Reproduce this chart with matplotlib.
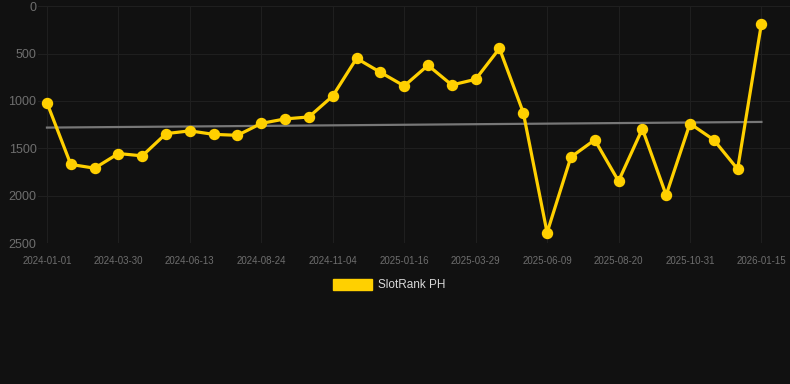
import numpy as np
import matplotlib.pyplot as plt

plt.rcParams['font.family'] = ['Liberation Sans', 'DejaVu Sans']

# SlotRank PH の順位推移（値は画像から読み取り）
ranks = [1020, 1670, 1710, 1555, 1580, 1345, 1316, 1353, 1363, 1237,
         1190, 1169, 948, 551, 698, 842, 624, 832, 772, 446,
         1123, 2390, 1593, 1411, 1846, 1295, 1994, 1239, 1411, 1720,
         186]
tick_labels = ['2024-01-01', '2024-03-30', '2024-06-13', '2024-08-24',
               '2024-11-04', '2025-01-16', '2025-03-29', '2025-06-09',
               '2025-08-20', '2025-10-31', '2026-01-15']
label = 'SlotRank PH'

bg = '#111111'
yellow = '#ffd000'

x = np.arange(len(ranks))
y = np.array(ranks)
b, a = np.polyfit(x, y, 1)

fig = plt.figure(figsize=(7.9, 3.84), dpi=100, facecolor=bg)
ax = fig.add_axes([0.048, 0.367, 0.952, 0.617], facecolor=bg)

ax.plot(x, b * x + a + 12, color='#777777', lw=1.6, zorder=2)
ax.plot(x, y, color=yellow, lw=2.3, marker='o', ms=7.2, zorder=3)

ax.set_ylim(2500, 0)
ax.set_xlim(-0.38, 31.2)
ax.set_yticks([0, 500, 1000, 1500, 2000, 2500])
ax.set_xticks(x[::3])
ax.set_xticklabels(tick_labels)
ax.tick_params(axis='y', colors='#6e6e6e', labelsize=9, length=0, pad=1)
ax.tick_params(axis='x', colors='#6e6e6e', labelsize=7, length=0, pad=9)
ax.grid(True, color='#1f1f1f', lw=0.8)
for s in ax.spines.values():
    s.set_visible(False)

# 凡例
fig.patches.append(plt.Rectangle((333 / 790, 1 - 290 / 384), 39 / 790, 11 / 384,
                                 transform=fig.transFigure, color=yellow))
fig.text(378 / 790, 1 - 285 / 384, label, color='#d8d8d8', fontsize=8.5,
         va='center', ha='left')

fig.savefig('out.png', dpi=100, facecolor=bg)
